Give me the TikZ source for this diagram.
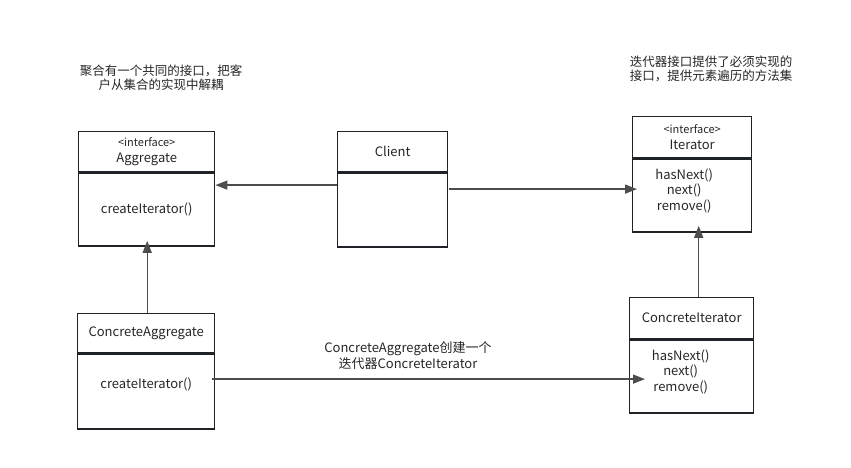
\documentclass[tikz,border=0pt]{standalone}
\usepackage{fontspec}
\setmainfont{Noto Sans CJK SC}
\usetikzlibrary{arrows.meta}
\definecolor{boxcol}{HTML}{1F2328}
\definecolor{linkcol}{HTML}{4D4D4D}
\definecolor{txtcol}{HTML}{262626}

\begin{document}
\begin{tikzpicture}[x=1pt,y=-1pt,
	font=\fontsize{13}{15.5}\selectfont, text=txtcol,
	box/.style={draw=boxcol, line width=1.4pt, anchor=north west, inner sep=0pt, align=center},
	meth/.style={align=center, inner sep=0pt},
	link/.style={draw=linkcol, line width=1.4pt, -{Triangle[length=12pt,width=9pt]}},
	note/.style={align=center, font=\fontsize{12.5}{14}\selectfont}]

	\useasboundingbox (0,0) rectangle (851,467);

	% notes
	\node[note] (aggnote) at (161,78) {聚合有一个共同的接口，把客\\户从集合的实现中解耦};
	\node[note] (iternote) at (711,69) {迭代器接口提供了必须实现的\\接口，提供元素遍历的方法集};

	% Aggregate
	\node[box, minimum width=136pt, minimum height=40pt] (agghead) at (78,131) {{\fontsize{11}{14}\selectfont<interface>}\\Aggregate};
	\node[box, minimum width=136pt, minimum height=73pt] (aggbody) at (agghead.south west) {createIterator()};

	% Client
	\node[box, minimum width=110pt, minimum height=40pt] (clienthead) at (337,131) {Client};
	\node[box, minimum width=110pt, minimum height=74pt] (clientbody) at (clienthead.south west) {};

	% Iterator
	\node[box, minimum width=119pt, minimum height=41pt] (iterhead) at (632,116) {{\fontsize{11}{14}\selectfont<interface>}\\Iterator};
	\node[box, minimum width=119pt, minimum height=73pt] (iterbody) at (iterhead.south west) {};
	\node[meth] (itermeth) at ([yshift=5pt,xshift=-8pt]iterbody.center) {hasNext()\\next()\\remove()};

	% ConcreteAggregate
	\node[box, minimum width=137pt, minimum height=39pt] (cahead) at (77,313) {ConcreteAggregate};
	\node[box, minimum width=137pt, minimum height=75pt] (cabody) at (cahead.south west) {};
	\node[meth] (cameth) at ([yshift=7pt]cabody.center) {createIterator()};

	% ConcreteIterator
	\node[box, minimum width=124pt, minimum height=41pt] (cihead) at (629,297) {ConcreteIterator};
	\node[box, minimum width=124pt, minimum height=73pt] (cibody) at (cihead.south west) {};
	\node[meth] (cimeth) at ([yshift=5pt,xshift=-11pt]cibody.center) {hasNext()\\next()\\remove()};

	% links
	\draw[link] ([yshift=25pt]clientbody.west) -- ([yshift=25pt]clientbody.west -| aggbody.east);
	\draw[link, shorten >=-5pt] ([yshift=21pt,xshift=1pt]clientbody.east) -- ([yshift=21pt]clientbody.east -| iterbody.west);
	\draw[link, shorten >=-6pt] ([xshift=1pt]cahead.north) -- ([xshift=1pt]cahead.north |- aggbody.south);
	\draw[link, shorten >=-7pt] ([xshift=7pt]cihead.north) -- ([xshift=7pt]cihead.north |- iterbody.south);
	\draw[link, shorten <=-3pt, shorten >=-16pt] ([yshift=12.5pt]cabody.east) -- ([yshift=12.5pt]cabody.east -| cibody.west);

	\node[align=center] (createlbl) at (408,355.5) {ConcreteAggregate创建一个\\迭代器ConcreteIterator};

\end{tikzpicture}
\end{document}
